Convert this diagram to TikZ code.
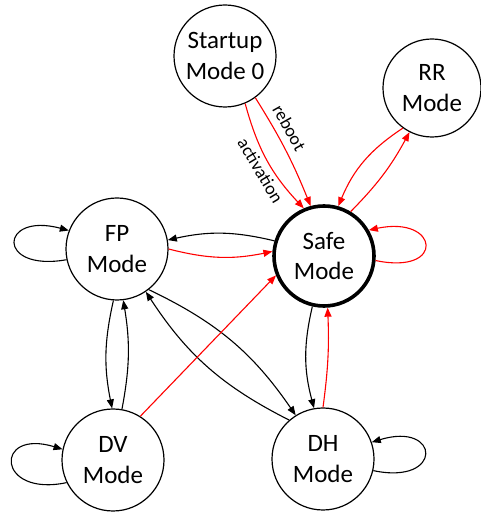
\documentclass[tikz,border=0pt]{standalone}
\usepackage{fontspec}
\setmainfont{Carlito}
\usetikzlibrary{arrows.meta}
\begin{document}
\begin{tikzpicture}[x=1pt,y=1pt,
  mode/.style={circle, draw, line width=1.2pt, minimum size=102pt, inner sep=0pt,
    align=center, font=\fontsize{25}{30.5}\selectfont},
  safemode/.style={mode, line width=3.6pt, minimum size=100pt},
  link/.style={line width=1.1pt, -{Triangle[length=9pt,width=7pt]}},
  redlink/.style={link, draw=red},
  lab/.style={font=\fontsize{18}{20}\selectfont, inner sep=2pt}
]
\useasboundingbox (0,0) rectangle (481,512);

% modes
\node[mode]     (s0)   at (225,456) {Startup\\Mode 0};
\node[mode, minimum size=98pt] (rr) at (432,424) {RR\\Mode};
\node[safemode] (safe) at (324,256) {Safe\\Mode};
\node[mode]     (fp)   at (117,263) {FP\\Mode};
\node[mode]     (dv)   at (113,52)  {DV\\Mode};
\node[mode]     (dh)   at (323,53)  {DH\\Mode};

% start-up into safe mode
\draw[redlink] (s0.-67) to[bend right=14]
  node[lab, pos=0.55, sloped, below=2pt] {activation} (safe.113);
\draw[redlink] (s0.-54) to[bend left=5]
  node[lab, pos=0.34, sloped, above=5pt] {reboot} (safe.105);

% safe <-> RR
\draw[redlink] (rr.-126) to[bend right=17] (safe.74);
\draw[redlink] (safe.59) to[bend right=8] (rr.-117);

% self loops
\draw[redlink] (safe.-5) .. controls +(-12:72) and +(12:72) .. (safe.30);
\draw[link] (fp.192) .. controls +(190:72) and +(165:72) .. (fp.159);
\draw[link] (dv.206) .. controls +(192:72) and +(163:72) .. (dv.168);
\draw[link] (dh.-13) .. controls +(-12:72) and +(17:72) .. (dh.19);

% safe <-> FP
\draw[link] (safe.163) to[bend right=13] (fp.10);
\draw[redlink] (fp.0) to[bend right=13] (safe.175);

% safe <-> DH
\draw[link] (safe.-103) to[bend right=14] (dh.100);
\draw[redlink] (dh.90) to[bend right=5] (safe.-86);

% FP <-> DV
\draw[link] (fp.-94) to[bend right=12] (dv.91);
\draw[link] (dv.80) to[bend right=10] (fp.-83);

% FP <-> DH
\draw[link] (fp.-52) to[bend left=15] (dh.122);
\draw[link] (dh.131) to[bend left=15] (fp.-56);

% DV into safe mode
\draw[redlink] (dv.58) -- (safe.202);
\end{tikzpicture}
\end{document}
